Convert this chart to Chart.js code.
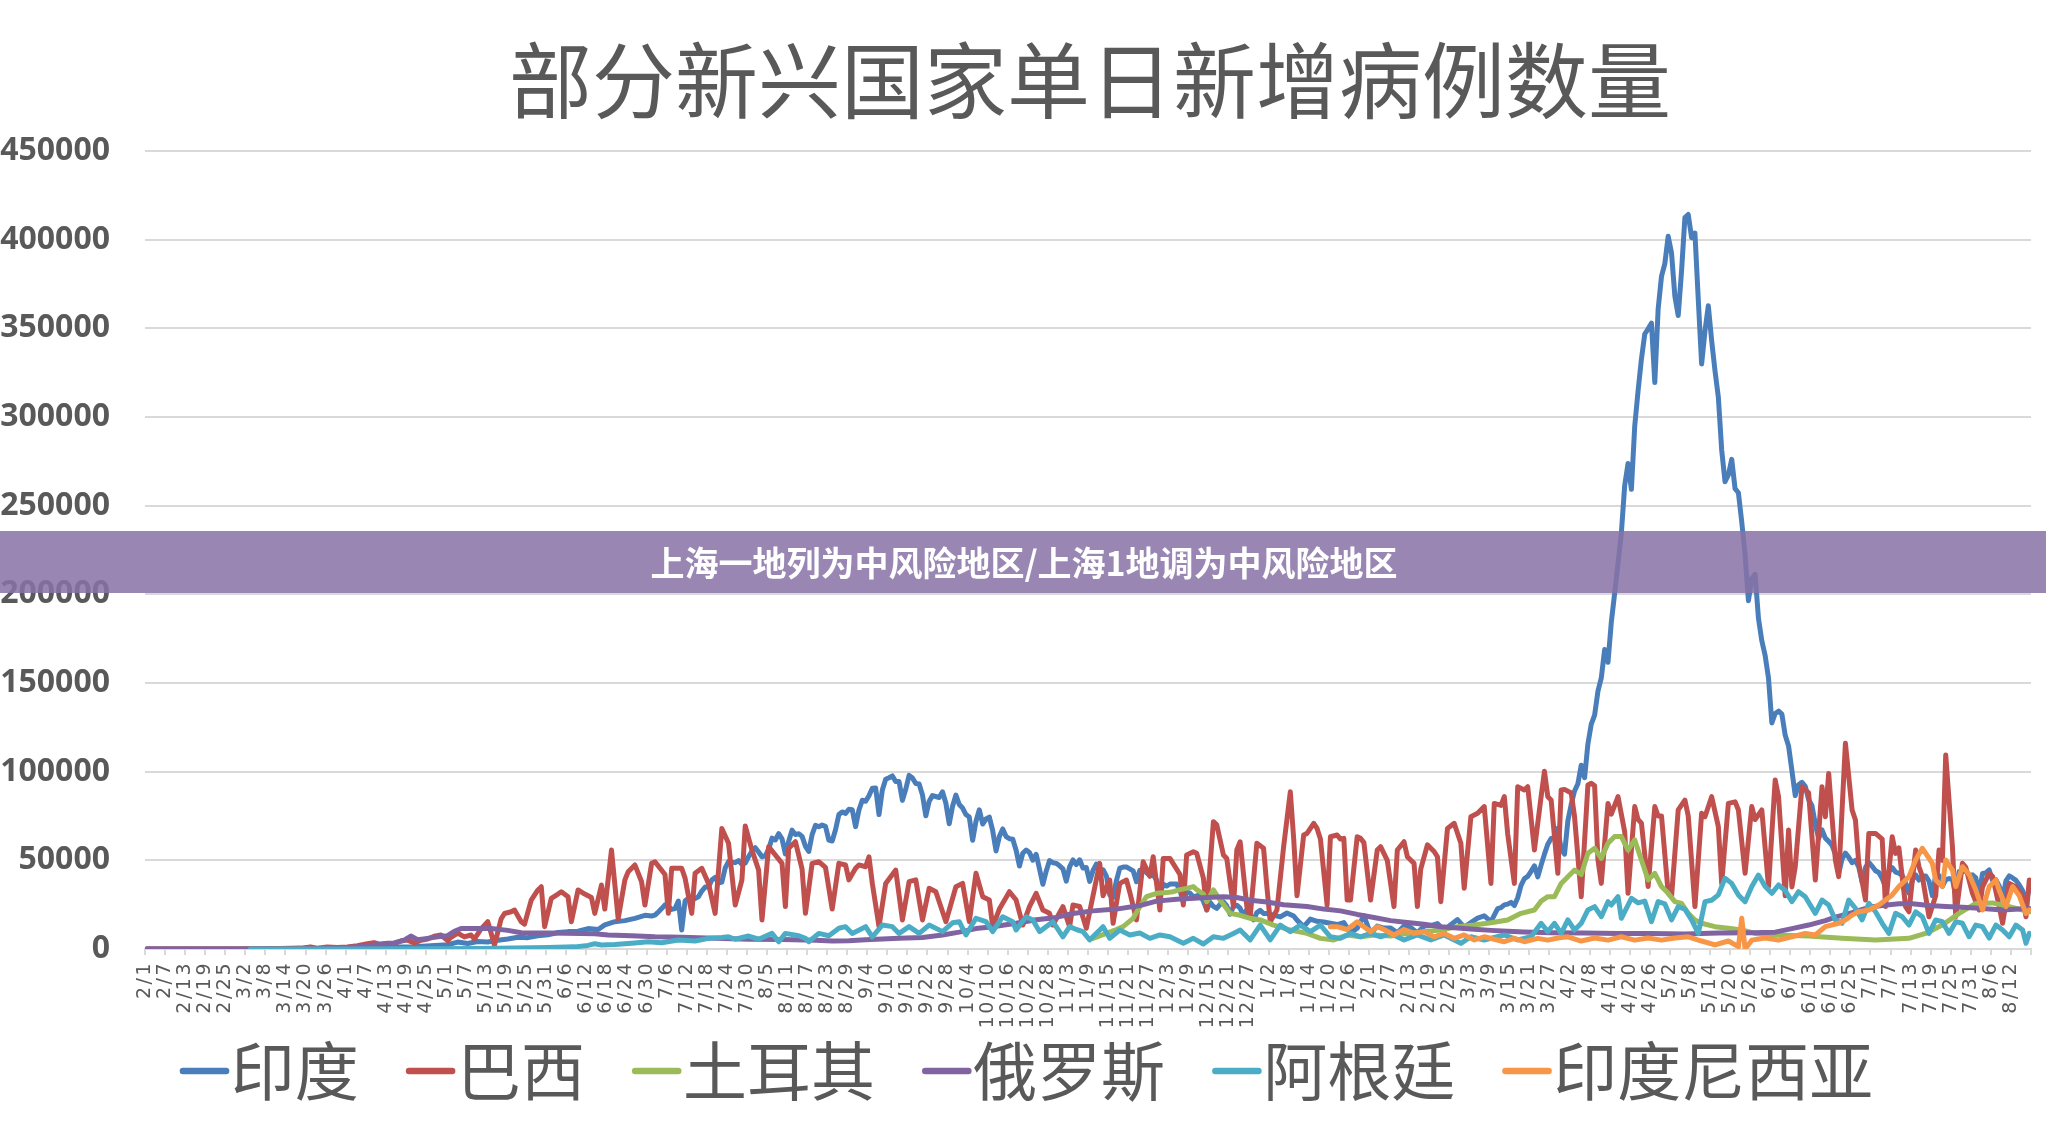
<!DOCTYPE html>
<html>
<head>
<meta charset="utf-8">
<script src="https://cdn.jsdelivr.net/npm/chart.js@4"></script>
<style>
html,body{margin:0;padding:0;background:#fff;}
canvas{display:block;}
</style>
</head>
<body>
<canvas id="c" width="2046" height="1124" style="width:2046px;height:1124px"></canvas>
<script>
// ---------- data ----------
const titleText = '部分新兴国家单日新增病例数量';
const bannerText = '上海一地列为中风险地区/上海1地调为中风险地区';
const seriesNames = ['印度', '巴西', '土耳其', '俄罗斯', '阿根廷', '印度尼西亚'];
const seriesColors = ['#4A7EBB', '#C0504D', '#9BBB59', '#8064A2', '#4BACC6', '#F79646'];
const startDate = [2020, 1, 1];   // 2020-02-01 = day 0
const lastDay = 563;              // 2021-08-17
const labelEvery = 6;
const yMin = 0, yMax = 450000, yStep = 50000;

// [day index, daily new cases]
const india = [[0,0],[30,0],[45,20],[55,100],[60,400],[65,550],[70,800],[75,1100],[80,1300],[85,1800],[90,2400],[93,3900],[96,3100],[99,4200],[102,3900],[105,4900],[108,5600],[111,6600],[114,6400],[117,7500],[120,8000],[123,9300],[126,9800],[129,10000],[132,11500],[135,11000],[137,13600],[140,15400],[143,16000],[146,17300],[149,19000],
[151,18600],[152,19100],[153,20900],[154,22800],[155,24900],[156,24200],[157,22300],[158,22800],[159,27000],[160,10700],[161,27100],[162,28600],[163,28700],[164,28500],[165,29400],[166,32700],[167,34900],[168,34900],[169,38900],[170,40400],[171,37100],[172,37700],[173,45700],[174,49300],[175,48900],[176,48700],[177,49900],[178,47700],[179,48500],[180,52100],[181,55100],
[182,57100],[183,54700],[184,52000],[185,52500],[186,56300],[187,62500],[188,61500],[189,65000],[190,62100],[191,53600],[192,60900],[193,67000],[194,64600],[195,65000],[196,63500],[197,57900],[198,55000],[199,64500],[200,69700],[201,68900],[202,69900],[203,69200],[204,61400],[205,60900],[206,67200],[207,75800],[208,77300],[209,76500],[210,78800],[211,78500],[212,69000],
[213,78400],[214,83900],[215,83300],[216,86400],[217,90600],[218,90800],[219,75800],[220,89700],[221,95700],[222,96600],[223,97600],[224,94400],[225,94400],[226,83800],[227,90100],[228,97900],[229,96400],[230,93300],[231,93000],[232,86900],[233,75100],[234,83300],[235,86500],[236,86000],[237,85400],[238,88600],[239,82200],[240,70600],[241,80500],[242,86800],
[243,81500],[244,79500],[245,75800],[246,74400],[247,61300],[248,72000],[249,78500],[250,70500],[251,73300],[252,74400],[253,66700],[254,55300],[255,63500],[256,67700],[257,63400],[258,62200],[259,61900],[260,55700],[261,46800],[262,54000],[263,55800],[264,54400],[265,50100],[266,53400],[267,45100],[268,36500],[269,43900],[270,49900],[271,48600],[272,48300],[273,46900],
[274,45200],[275,38300],[276,46300],[277,50200],[278,47600],[279,50300],[280,45700],[281,45900],[282,38100],[283,44300],[284,47900],[285,44900],[286,44700],[287,41100],[288,30500],[289,29200],[290,38600],[291,45600],[292,46200],[293,46200],[294,45200],[295,44100],[296,37900],[297,44400],[298,44500],[299,43100],[300,41300],[301,41800],[302,38800],[303,31100],
[304,36600],[305,35500],[306,36600],[307,36600],[308,36600],[309,32900],[310,26600],[311,32100],[312,31500],[313,29400],[314,30000],[315,30300],[316,27000],[317,22000],[318,26400],[319,24000],[320,22900],[321,25200],[322,26600],[323,24300],[324,19600],[325,23900],[326,24700],[327,23000],[328,18700],[329,22300],[330,18700],[331,16400],[332,20500],[333,21800],[334,20000],
[335,20000],[337,19100],[339,18100],[341,20300],[343,18600],[344,16300],[346,12600],[348,16900],[350,15600],[352,15200],[354,14500],[356,13800],[358,14900],[360,9100],[362,11700],[364,18800],[366,8600],[368,12900],[370,11800],[372,11900],[374,9100],[376,12900],[378,12100],[380,9100],[382,12900],[384,13200],[386,14300],[388,10600],[390,13700],[392,16600],[394,12300],[396,14900],[398,17400],[400,18700],[402,15400],[404,22800],
[405,23300],[406,24900],[407,25300],[408,26300],[409,24500],[410,28900],[411,35900],[412,39700],[413,40900],[414,43800],[415,46900],[416,40700],[417,47300],[418,53500],[419,59100],[420,62300],[421,62700],[422,68000],[423,56200],[424,53500],[425,72300],[426,81500],[427,89100],[428,93200],[429,103600],[430,96600],[431,115700],[432,126800],[433,131900],[434,145400],
[435,152900],[436,168900],[437,161700],[438,184400],[439,200700],[440,217400],[441,234700],[442,261500],[443,273800],[444,259200],[445,295000],[446,314800],[447,332700],[448,346800],[449,349700],[450,352900],[451,319400],[452,360900],[453,379300],[454,386500],[455,401900],[456,392500],[457,368100],[458,357200],[459,382300],[460,412400],[461,414200],[462,401100],[463,403700],[464,366200],
[465,329900],[466,348400],[467,362700],[468,343100],[469,326100],[470,311200],[471,281400],[472,263500],[473,267300],[474,276100],[475,259600],[476,257300],[477,240800],[478,222300],[479,196400],[480,208900],[481,211300],[482,186400],[483,173800],[484,165500],[485,152700],[486,127500],[487,132800],[488,134100],[489,132400],[490,120500],[491,114500],[492,100600],[493,86500],[494,92600],
[495,94000],[496,91700],[497,84300],[498,80800],[499,70400],[500,62200],[501,67200],[502,62500],[503,60700],[504,58400],[505,53300],[506,42600],[507,50800],[508,54100],[509,51700],[510,48700],[511,50000],[512,46100],[513,37600],[514,45900],[515,48800],[516,46600],[517,44100],[518,43100],[519,39800],[520,34700],[521,43700],[522,45900],[523,43400],[524,42800],
[525,41500],[526,37200],[527,31400],[528,38800],[529,41800],[530,38900],[531,41200],[532,41200],[533,38200],[534,30100],[535,42000],[536,41400],[537,35300],[538,39100],[539,39700],[540,39400],[541,29700],[542,43700],[543,43500],[544,44200],[545,41600],[546,41800],[547,40100],[548,30500],[549,42600],[550,42900],[551,44600],[552,38600],[553,39100],[554,35500],
[555,28200],[556,38400],[557,41200],[558,40100],[559,38700],[560,36100],[561,32900],[562,25200],[563,35200]];

const brazil = [[0,0],[27,0],[33,100],[40,250],[46,500],[49,1200],[51,500],[54,1100],[57,900],[60,1100],[63,1900],[66,3000],[68,3600],[70,2500],[72,3200],[74,3000],[76,4500],[78,5000],[80,3400],[82,4900],[84,5600],[86,7200],[88,7900],[90,4700],[91,6600],[93,9000],[95,6800],[97,7900],[98,5600],[100,11300],[102,15400],[103,9000],[104,2000],[106,17000],[107,20000],[109,21000],[110,22000],[112,15400],[113,14000],[115,27600],[117,33300],[118,35100],[119,12600],[121,28600],[123,31000],[124,32300],[126,29500],[127,15400],[129,33300],[131,31000],[133,29000],[134,20100],[136,36100],[137,22500],[139,55800],[141,17000],
[143,38900],[144,43600],[146,47400],[148,37900],[149,24800],[151,48300],[152,49200],[155,42000],[156,20100],[157,45500],[160,45500],[161,40000],[163,20100],[164,42700],[166,45500],[168,37000],[170,20100],[172,68000],[174,59600],[176,24800],[178,38900],[179,69400],[181,55800],[183,44500],[184,16400],[186,57700],[188,53000],[190,48300],[191,23900],[192,56800],[194,60500],[196,45000],[197,20100],[199,48300],[201,49200],[203,46000],[205,22500],[207,48300],[209,47400],[210,39000],[212,45500],[213,47400],[215,46400],[216,52000],[217,37000],[219,12600],[221,37000],[224,44500],[226,16400],[228,38000],[230,39000],[232,16400],[234,34200],[236,32300],[239,15400],[242,35100],[244,37000],[246,15400],[248,42700],[250,29500],[252,27600],[253,12600],[255,22500],[258,32300],[260,27600],[262,13500],[264,23900],[266,31400],[268,22000],[270,20100],[271,13500],[274,23900],[276,12600],[277,24800],[279,24000],[281,11700],
[285,48300],[286,30000],[288,38900],[289,14500],[291,37000],[293,38900],[294,32000],[296,16400],[298,49200],[300,41000],[301,52000],[303,22000],[304,51100],[306,51100],[309,42000],[310,24800],[311,53000],[313,54900],[314,54000],[316,40000],[317,22000],[319,71800],[320,70000],[322,53000],[323,51000],[325,23900],[326,55800],[327,60500],[329,23900],[330,18200],[332,59600],[334,56800],[335,35000],[336,15400],[338,22000],[340,57700],[342,88700],[343,62400],[344,30000],[346,64300],[347,65200],[349,70900],[350,68000],[351,62000],[353,24800],[354,63300],[356,64300],[357,62000],[358,62400],[359,27600],[360,27600],[362,63300],[363,62400],[364,60000],[366,27600],[368,55800],[369,57700],[371,50000],[373,23900],[374,55800],[376,60500],[377,52000],[379,48300],[380,23900],[381,45000],[383,58700],[385,55000],[386,52000],[387,26700],[389,68000],[391,70900],[393,59600],[394,34200],[396,74600],[398,76500],[400,80300],[402,37000],[403,82100],[405,81000],[406,85900],[407,65000],[409,37000],[410,91500],[412,89700],[413,91500],[415,55800],[416,70900],[417,85900],[418,100200],[419,85900],[420,84000],
[422,42700],[423,89700],[424,90000],[426,88000],[427,74600],[429,29500],[431,92500],[432,93400],[433,92000],[434,50200],[435,37000],[437,82100],[438,76000],[440,85900],[442,66000],[443,31400],[445,80300],[446,73000],[447,71000],[449,35200],[451,80300],[452,75000],[453,75000],[455,31400],[456,29500],[458,78400],[460,84000],[461,75000],[463,23900],[465,76500],[466,74600],[468,85900],[470,69000],[471,36900],[473,82100],[475,83000],[476,78400],[478,42700],[480,80300],[481,73000],[483,78400],[485,35200],[487,95300],[488,85900],[490,30000],[491,67100],[492,35000],[493,46400],[495,91500],[497,88000],[498,63300],[499,38900],[501,91500],[502,74600],[503,99000],[505,50000],[506,40800],[508,116000],[510,78400],[511,72700],[512,48300],[514,27600],[515,65200],[517,65200],[519,62000],[520,23900],[522,63300],[523,53900],[524,57000],[526,23900],[527,21000],[529,55800],[530,46400],[531,41000],[533,18200],[535,30000],[536,55800],[537,50000],[538,109400],[540,57700],[541,18200],[543,48300],[544,46000],[546,31400],[548,22000],[549,35000],[551,42700],[552,41000],[554,23900],[555,14500],[557,37000],[559,35000],[561,29500],[562,18200],[563,38900]];

const turkey = [[283,6000],[287,8800],[290,11000],[292,12600],[295,17300],[297,23900],[299,29500],[302,31400],[305,31800],[307,32300],[309,33500],[311,34200],[313,35200],[314,33500],[316,31000],[317,26700],[319,33300],[321,27600],[324,20100],[327,19000],[330,17300],[333,16400],[337,13500],[342,10700],[347,8800],[351,6000],[355,5100],[359,7900],[363,6900],[367,7900],[372,7300],[377,8800],[382,9800],[387,10700],[392,12600],[397,13500],[402,14800],[407,16400],[411,20100],[415,22000],[417,27000],[419,29500],[421,29500],[423,37000],[425,40800],[427,44500],[429,42000],[431,54000],[433,56800],[435,51100],[437,59600],[439,63400],[441,63400],[443,55800],[445,61500],[447,50200],[449,38900],[451,42700],[453,35200],[455,31400],[457,26700],[459,25700],[461,20100],[463,16400],[465,14500],[469,12600],[473,11700],[477,10700],[481,8800],[487,7900],[497,7300],[507,6000],[517,5100],[527,6000],[532,8800],[537,13500],[542,20100],[547,25700],[552,26000],[557,23900],[563,21000]];

const russia = [[0,0],[40,0],[50,50],[58,500],[62,1200],[66,1700],[70,2800],[74,3400],[77,5000],[79,7300],[81,5200],[84,6000],[87,6900],[90,7500],[92,10000],[94,11500],[98,11600],[103,11600],[108,10500],[112,9200],[120,9000],[130,8800],[134,8600],[138,7900],[145,7500],[152,6900],[160,6600],[170,6100],[180,5500],[190,5300],[200,5000],[205,4500],[210,4700],[215,5200],[225,6000],[232,6500],[238,7900],[243,9500],[248,11500],[253,12600],[260,14500],[266,16500],[272,17800],[277,20000],[283,21500],[290,22500],[297,24500],[302,27000],[308,28000],[312,28500],[317,29000],[322,29500],[326,29000],[330,27500],[335,26500],[340,25000],[347,24000],[352,22500],[357,21500],[362,19500],[367,17800],[372,16000],[377,15000],[382,14000],[387,12600],[392,11800],[397,11200],[402,10500],[407,10000],[412,9600],[420,9200],[430,9000],[440,8800],[450,8800],[460,8400],[470,9000],[480,9200],[487,9500],[492,11500],[497,13500],[502,16000],[505,18000],[510,20500],[515,23500],[519,24500],[524,25500],[528,25500],[533,24500],[538,24000],[543,23500],[548,23000],[555,22000],[560,22500],[563,22800]];

const argentina = [[31,0],[60,0],[80,100],[100,300],[110,600],[120,800],[128,1200],[132,2000],[134,3000],[136,2300],[140,2500],[145,3200],[150,4100],[154,3500],[159,5100],[164,4500],[168,6000],[172,6500],[174,6900],[176,5500],[180,7300],[183,5500],[187,8800],[189,4100],[191,8800],[195,7500],[197,6000],[198,4100],[201,8800],[204,7500],[207,11700],[209,12600],[211,8800],[215,12600],[217,6900],[220,13500],[223,12600],[225,8800],[228,12600],[231,8800],[234,13500],[238,9800],[241,14800],[243,15400],[245,7900],[248,17300],[251,15400],[253,9800],[256,18200],[259,15400],[260,10700],[263,18200],[265,16400],[267,9800],[271,15400],[274,6900],[276,12600],[278,11000],[280,9800],[282,5100],[286,12600],[288,6000],[291,10700],[294,7900],[297,9000],[300,6000],[303,7900],[306,6900],[310,3200],[313,6000],[316,2800],[319,6900],[322,6000],[325,8800],[327,10700],[330,5100],[333,13500],[336,5100],[339,13500],[342,9800],[345,13500],[348,9800],[351,13500],[354,6900],[357,6000],[360,8800],[363,6900],[366,8800],[369,6900],[372,8800],[376,5100],[380,7900],[384,5100],[388,7900],[393,3200],[396,6900],[400,5100],[406,7900],[410,5100],[414,6900],[417,14500],[419,9800],[421,14500],[423,8800],[425,16400],[427,10700],[429,14500],[431,22000],[433,23900],[435,18200],[437,26700],[438,24800],[440,29500],[441,17300],[444,28600],[446,26000],[448,27000],[450,15400],[452,26700],[454,25500],[456,16400],[458,23900],[460,22500],[462,16400],[464,8800],[466,26700],[468,27500],[470,30500],[472,39900],[474,37000],[476,30500],[478,26700],[480,35200],[482,41700],[484,35200],[486,31400],[488,36100],[490,33000],[492,26700],[494,32300],[496,29500],[499,20100],[501,27600],[503,24800],[505,16400],[507,14500],[509,27600],[511,23000],[513,16400],[515,25700],[517,21000],[519,14500],[521,8800],[523,20100],[525,18200],[527,13500],[529,21000],[531,18200],[533,8800],[535,16400],[537,15400],[539,8800],[541,15400],[543,14500],[545,6900],[547,13500],[549,12600],[551,6200],[553,13500],[555,10700],[557,6900],[559,13500],[561,10700],[562,3200],[563,8800]];

const indonesia = [[354,12600],[356,12600],[359,11000],[362,15400],[364,12600],[366,9800],[368,12600],[370,11000],[373,7900],[376,11000],[379,8800],[382,9800],[385,6900],[388,8800],[391,6000],[394,7900],[397,5100],[400,6900],[403,5500],[406,4100],[409,6000],[412,4100],[416,6000],[419,5000],[422,6200],[425,6900],[429,4500],[433,6200],[437,5000],[441,6900],[445,5000],[449,6200],[453,5000],[457,6200],[461,6900],[465,4500],[469,2300],[473,4500],[476,1300],[477,17300],[478,0],[480,5000],[484,6200],[488,5000],[492,6900],[496,8800],[499,7900],[502,12600],[506,14500],[508,16400],[510,19200],[512,21000],[515,22000],[518,24800],[520,27600],[522,30500],[524,35200],[526,38900],[527,40800],[529,50200],[531,56800],[532,54000],[534,48300],[535,38900],[537,35200],[538,50200],[540,44500],[541,35200],[543,46400],[545,42000],[547,33300],[549,22000],[551,35200],[553,38900],[554,33000],[556,23900],[558,35200],[560,30000],[562,20000],[563,22000]];

const seriesData = [india, brazil, turkey, russia, argentina, indonesia];

// ---------- helpers ----------
const t0 = Date.UTC(startDate[0], startDate[1], startDate[2]);
function dayLabel(d) {
  const t = new Date(t0 + d * 86400000);
  return (t.getUTCMonth() + 1) + '/' + t.getUTCDate();
}

const overlayPlugin = {
  id: 'overlay',
  afterDatasetsDraw(chart) {
    // x tick labels (z = 1) are drawn after this hook: give them Excel-like spacing
    chart.ctx.letterSpacing = '2.5px';
  },
  afterDraw(chart) {
    const ctx = chart.ctx;
    ctx.letterSpacing = '0px';
    const ca = chart.chartArea;
    ctx.save();
    // title
    ctx.fillStyle = '#595959';
    ctx.font = '400 83px "Noto Sans CJK SC"';
    ctx.textAlign = 'center';
    ctx.textBaseline = 'middle';
    ctx.fillText(titleText, (ca.left + ca.right) / 2 + 2, 80);

    // legend
    ctx.font = '400 64px "Noto Sans CJK SC"';
    ctx.textAlign = 'left';
    const sw = 49.6, gapT = 1.5, gapI = 47;
    const widths = seriesNames.map(n => ctx.measureText(n).width);
    let total = 0;
    widths.forEach(w => total += sw + gapT + w);
    total += gapI * (seriesNames.length - 1);
    let x = 1026.5 - total / 2;
    const ly = 1071;
    seriesNames.forEach((n, i) => {
      ctx.strokeStyle = seriesColors[i];
      ctx.lineWidth = 6.5;
      ctx.lineCap = 'round';
      ctx.beginPath();
      ctx.moveTo(x + 3.25, ly);
      ctx.lineTo(x + sw - 3.25, ly);
      ctx.stroke();
      ctx.fillStyle = '#595959';
      ctx.fillText(n, x + sw + gapT, ly);
      x += sw + gapT + widths[i] + gapI;
    });

    // banner overlay
    ctx.fillStyle = 'rgba(136,114,167,0.86)';
    ctx.fillRect(0, 531, chart.width, 62);
    ctx.fillStyle = '#ffffff';
    ctx.font = 'bold 34px "Noto Sans CJK SC"';
    ctx.textAlign = 'center';
    ctx.fillText(bannerText, 1024, 563);
    ctx.restore();
  }
};

new Chart(document.getElementById('c'), {
  type: 'line',
  data: {
    datasets: seriesData.map((s, i) => ({
      label: seriesNames[i],
      data: s.map(p => ({ x: p[0], y: p[1] })),
      borderColor: seriesColors[i],
      backgroundColor: seriesColors[i],
      borderWidth: 5,
      pointRadius: 0,
      tension: 0,
      fill: false,
      borderJoinStyle: 'round',
      borderCapStyle: 'round',
      order: seriesData.length - i
    }))
  },
  options: {
    responsive: false,
    animation: false,
    devicePixelRatio: 1,
    layout: { padding: { top: 151, right: 15, left: 0, bottom: 0 } },
    plugins: {
      legend: { display: false },
      title: { display: false },
      tooltip: { enabled: false }
    },
    scales: {
      x: {
        type: 'linear',
        min: -0.5,
        max: lastDay + 0.5,
        afterBuildTicks: (axis) => {
          const t = [];
          for (let b = -0.5; b <= lastDay + 0.5 + 1e-6; b += labelEvery) t.push({ value: b });
          axis.ticks = t;
        },
        afterFit: (s) => { s.height = 175; s.paddingLeft = 0; s.paddingRight = 0; },
        ticks: {
          z: 1,
          autoSkip: false,
          maxRotation: 90,
          minRotation: 90,
          padding: 6,
          color: '#595959',
          font: { family: 'DejaVu Sans', size: 19 },
          callback: (v) => {
            const d = Math.round(v + 0.5);
            return d <= lastDay ? dayLabel(d) : '';
          }
        },
        grid: { drawOnChartArea: false, drawTicks: true, tickLength: 6, color: '#d9d9d9', lineWidth: 2 },
        border: { display: true, color: '#d9d9d9', width: 2 }
      },
      y: {
        min: yMin,
        max: yMax,
        afterFit: (s) => { s.width = 145; },
        ticks: {
          stepSize: yStep,
          padding: 35,
          color: '#595959',
          font: { family: 'Open Sans', weight: 'bold', size: 32 },
          callback: (v) => String(v)
        },
        grid: { color: '#d9d9d9', lineWidth: 2, drawTicks: false },
        border: { display: false }
      }
    }
  },
  plugins: [overlayPlugin]
});
</script>
</body>
</html>
